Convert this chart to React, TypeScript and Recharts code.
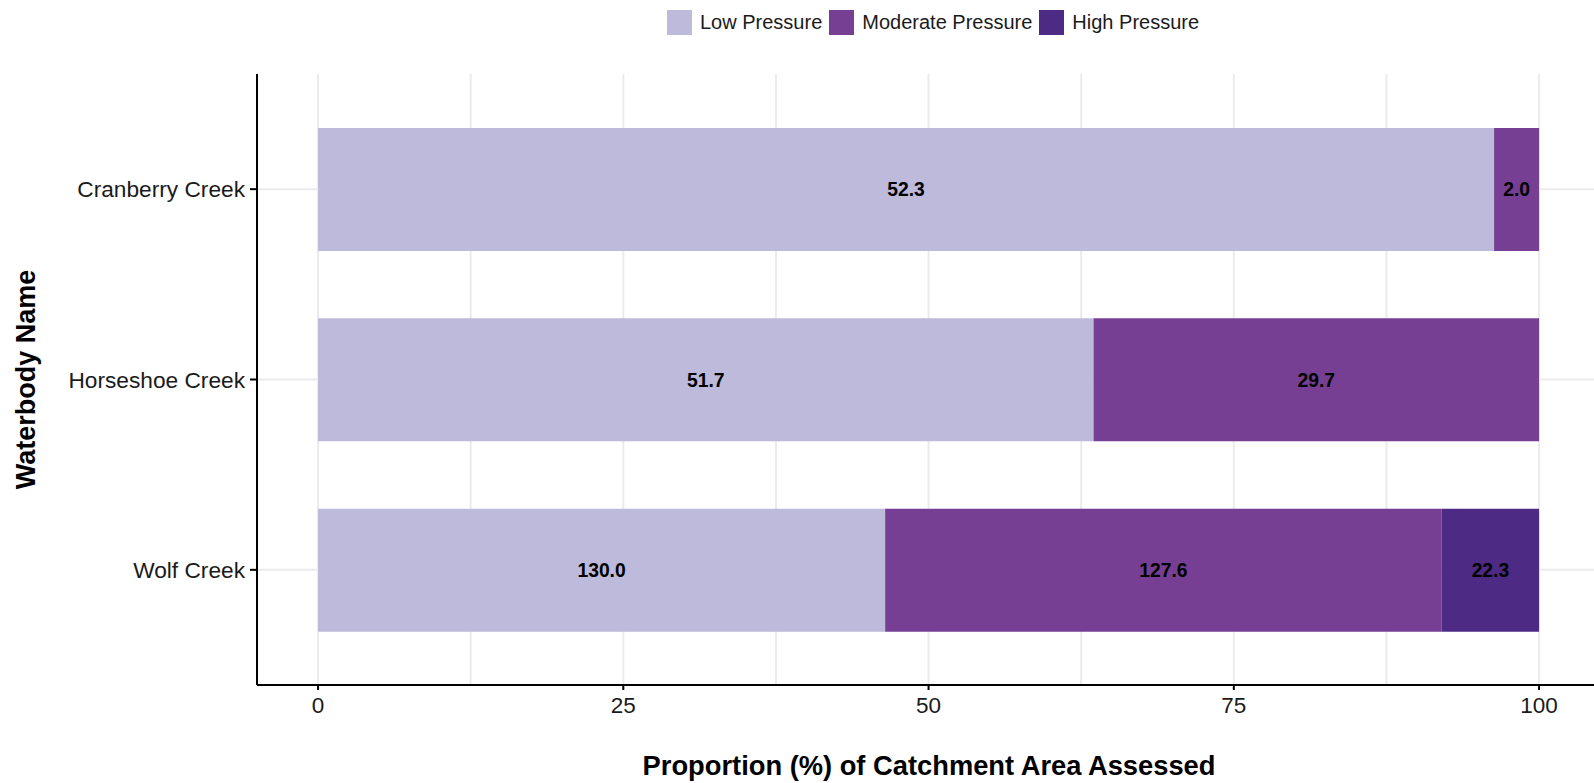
import React from "react";
import {
  BarChart,
  Bar,
  XAxis,
  YAxis,
  CartesianGrid,
  Legend,
  LabelList,
  Label,
} from "recharts";

const categories = ["Cranberry Creek", "Horseshoe Creek", "Wolf Creek"];
const lowValues = [52.3, 51.7, 130.0];
const moderateValues = [2.0, 29.7, 127.6];
const highValues = [0, 0, 22.3];

const xTicks = [0, 25, 50, 75, 100];
const gridTicks = [0, 12.5, 25, 37.5, 50, 62.5, 75, 87.5, 100];

const seriesNames = ["Low Pressure", "Moderate Pressure", "High Pressure"];
const seriesColors = ["#bdbadb", "#763f94", "#4d2a84"];

const data = categories.map((name, i) => {
  const total = lowValues[i] + moderateValues[i] + highValues[i];
  return {
    name,
    lowPct: (lowValues[i] / total) * 100,
    moderatePct: (moderateValues[i] / total) * 100,
    highPct: (highValues[i] / total) * 100,
    lowRaw: lowValues[i],
    moderateRaw: moderateValues[i],
    highRaw: highValues[i],
  };
});

const FONT = '"Liberation Sans", Arial, Helvetica, sans-serif';
const fmt = (v: any) => (typeof v === "number" && v > 0 ? v.toFixed(1) : "");

const LegendContent = () => (
  <div
    style={{
      display: "flex",
      alignItems: "center",
      fontFamily: FONT,
      fontSize: 20,
      color: "#1a1a1a",
      whiteSpace: "nowrap",
    }}
  >
    {seriesNames.map((n, i) => (
      <div key={n} style={{ display: "flex", alignItems: "center", marginRight: 7 }}>
        <div
          style={{
            width: 25,
            height: 25,
            background: seriesColors[i],
            marginRight: 8,
          }}
        />
        <span>{n}</span>
      </div>
    ))}
  </div>
);

export default function App() {
  return (
    <div style={{ position: "absolute", left: 0, top: 0, width: 1594, height: 783, background: "#fff" }}>
      <BarChart
        width={1594}
        height={783}
        data={data}
        layout="vertical"
        margin={{ top: 74, right: 0, bottom: 0, left: 0 }}
        style={{ fontFamily: FONT }}
      >
        <XAxis
          xAxisId="grid"
          type="number"
          domain={[-5, 104.5]}
          ticks={gridTicks}
          allowDataOverflow
          hide
        />
        <CartesianGrid
          xAxisId="grid"
          stroke="#ebebeb"
          strokeWidth={2}
          horizontal={true}
          vertical={true}
          syncWithTicks
        />
        <XAxis
          type="number"
          domain={[-5, 104.5]}
          ticks={xTicks}
          allowDataOverflow
          height={98}
          tickSize={5}
          tickMargin={7}
          axisLine={{ stroke: "#000", strokeWidth: 2 }}
          tickLine={{ stroke: "#000", strokeWidth: 2 }}
          tick={{ fill: "#1a1a1a", fontSize: 22.5, fontFamily: FONT }}
        >
          <Label
            content={() => (
              <text
                x={929}
                y={775}
                textAnchor="middle"
                fontFamily={FONT}
                fontWeight="bold"
                fontSize={27.3}
                fill="#000"
              >
                Proportion (%) of Catchment Area Assessed
              </text>
            )}
          />
        </XAxis>
        <YAxis
          type="category"
          dataKey="name"
          width={257}
          padding={{ top: 20, bottom: 20 }}
          tickSize={7}
          tickMargin={5}
          axisLine={{ stroke: "#000", strokeWidth: 2 }}
          tickLine={{ stroke: "#000", strokeWidth: 2 }}
          tick={{ fill: "#1a1a1a", fontSize: 22.7, fontFamily: FONT }}
        >
          <Label
            content={() => (
              <text
                x={34.5}
                y={379.5}
                transform="rotate(-90, 34.5, 379.5)"
                textAnchor="middle"
                fontFamily={FONT}
                fontWeight="bold"
                fontSize={27}
                fill="#000"
              >
                Waterbody Name
              </text>
            )}
          />
        </YAxis>
        <Legend
          layout="horizontal"
          verticalAlign="middle"
          align="center"
          content={LegendContent}
          wrapperStyle={{ top: 10, left: 667, width: "auto", height: 25 }}
        />
        <Bar dataKey="lowPct" name={seriesNames[0]} stackId="a" fill={seriesColors[0]} barSize={123} isAnimationActive={false}>
          <LabelList dataKey="lowRaw" position="center" formatter={fmt} fill="#000" fontWeight="bold" fontSize={19.3} fontFamily={FONT} />
        </Bar>
        <Bar dataKey="moderatePct" name={seriesNames[1]} stackId="a" fill={seriesColors[1]} barSize={123} isAnimationActive={false}>
          <LabelList dataKey="moderateRaw" position="center" formatter={fmt} fill="#000" fontWeight="bold" fontSize={19.3} fontFamily={FONT} />
        </Bar>
        <Bar dataKey="highPct" name={seriesNames[2]} stackId="a" fill={seriesColors[2]} barSize={123} isAnimationActive={false}>
          <LabelList dataKey="highRaw" position="center" formatter={fmt} fill="#000" fontWeight="bold" fontSize={19.3} fontFamily={FONT} />
        </Bar>
      </BarChart>
    </div>
  );
}
